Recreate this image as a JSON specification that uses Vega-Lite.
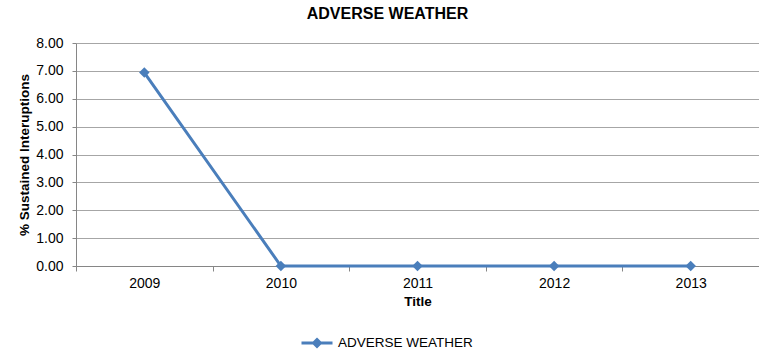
{
  "$schema": "https://vega.github.io/schema/vega-lite/v6.json",
  "width": 683,
  "height": 223,
  "autosize": "none",
  "padding": {"left": 76, "top": 43, "right": 0, "bottom": 88},
  "background": "white",
  "title": {
    "text": "ADVERSE  WEATHER",
    "font": "Liberation Sans",
    "fontSize": 16,
    "fontWeight": "bold",
    "color": "#000000",
    "anchor": "middle",
    "dx": -30,
    "offset": 14
  },
  "data": {
    "values": [
      {"year": "2009", "value": 6.94, "series": "ADVERSE WEATHER"},
      {"year": "2010", "value": 0, "series": "ADVERSE WEATHER"},
      {"year": "2011", "value": 0, "series": "ADVERSE WEATHER"},
      {"year": "2012", "value": 0, "series": "ADVERSE WEATHER"},
      {"year": "2013", "value": 0, "series": "ADVERSE WEATHER"}
    ]
  },
  "mark": {
    "type": "line",
    "strokeWidth": 3,
    "point": {"shape": "diamond", "size": 110, "filled": true, "color": "#4A7EBB"}
  },
  "encoding": {
    "x": {
      "field": "year",
      "type": "ordinal",
      "scale": {"type": "band", "paddingInner": 0, "paddingOuter": 0},
      "axis": {
        "title": "Title",
        "tickBand": "extent",
        "labelAngle": 0,
        "grid": false,
        "domainColor": "#868686",
        "tickColor": "#868686",
        "tickSize": 5,
        "labelFont": "Liberation Sans",
        "labelFontSize": 14,
        "labelColor": "#000000",
        "labelPadding": 5,
        "titleFont": "Liberation Sans",
        "titleFontSize": 13.5,
        "titleFontWeight": "bold",
        "titleColor": "#000000",
        "titlePadding": 4
      }
    },
    "y": {
      "field": "value",
      "type": "quantitative",
      "scale": {"domain": [0, 8], "nice": false},
      "axis": {
        "title": "% Sustained Interuptions",
        "values": [0, 1, 2, 3, 4, 5, 6, 7, 8],
        "format": ".2f",
        "grid": true,
        "gridColor": "#A6A6A6",
        "domainColor": "#868686",
        "tickColor": "#868686",
        "tickSize": 4,
        "labelFont": "Liberation Sans",
        "labelFontSize": 14,
        "labelColor": "#000000",
        "labelPadding": 9,
        "titleFont": "Liberation Sans",
        "titleFontSize": 13.5,
        "titleFontWeight": "bold",
        "titleColor": "#000000",
        "titlePadding": 4
      }
    },
    "color": {
      "field": "series",
      "type": "nominal",
      "scale": {"range": ["#4A7EBB"]},
      "legend": {
        "orient": "none",
        "legendX": 224,
        "legendY": 283,
        "title": null,
        "symbolType": "M-1,0H1M0,-0.22L0.22,0L0,0.22L-0.22,0Z",
        "symbolSize": 961,
        "symbolStrokeWidth": 3,
        "symbolFillColor": "#4A7EBB",
        "labelFont": "Liberation Sans",
        "labelFontSize": 13.5,
        "labelColor": "#000000",
        "labelOffset": 4
      }
    }
  },
  "config": {"view": {"stroke": null}}
}
